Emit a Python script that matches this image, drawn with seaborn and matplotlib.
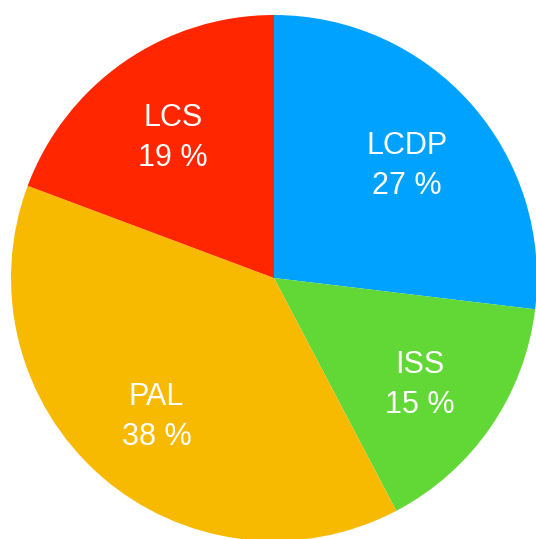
import numpy as np
import matplotlib
matplotlib.use('Agg')
import matplotlib.pyplot as plt
import seaborn as sns

# 数据
labels = ['LCDP', 'ISS', 'PAL', 'LCS']
shares = [26.9, 15.4, 38.4, 19.3]
pct_labels = ['27 %', '15 %', '38 %', '19 %']
colors = ['#00A2FF', '#61D836', '#F8BA00', '#FF2600']

sns.set_theme(style='white')
plt.rcParams['font.family'] = ['Liberation Sans', 'DejaVu Sans']

fig = plt.figure(figsize=(5.36, 5.39), dpi=100)
ax = fig.add_axes([0, 0, 1, 1])

palette = sns.color_palette(colors)
texts = [f'{l}\n{p}' for l, p in zip(labels, pct_labels)]
wedges, txts = ax.pie(shares, labels=texts, colors=palette, startangle=90,
                      counterclock=False, labeldistance=0.675, radius=1,
                      wedgeprops=dict(linewidth=0),
                      textprops=dict(color='white', fontsize=22,
                                     ha='center', va='center',
                                     linespacing=1.42))

# 位置: 圆心在 (274, 278) 像素，半径 263 像素
r_px = 263.0
# 标签整体下移约 6 像素
for t in txts:
    x, y = t.get_position()
    t.set_position((x, y - 6 / r_px))

ax.set_xlim(-274 / r_px, (536 - 274) / r_px)
ax.set_ylim(-(539 - 278) / r_px, 278 / r_px)
ax.set_aspect('auto')
ax.axis('off')

fig.savefig('out.png', dpi=100, facecolor='white')
